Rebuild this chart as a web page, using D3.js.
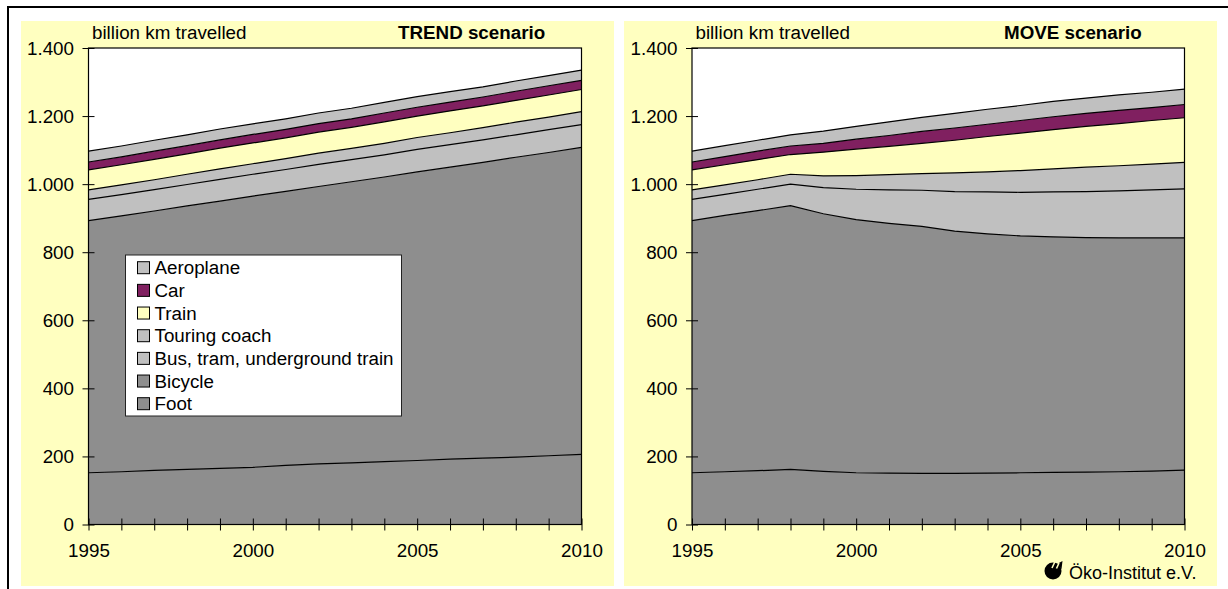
<!DOCTYPE html>
<html>
<head>
<meta charset="utf-8">
<script src="https://cdn.jsdelivr.net/npm/d3@7"></script>
<style>
html,body{margin:0;padding:0;background:#fff}
svg{display:block}
text{font-family:"Liberation Sans",Arial,sans-serif;fill:#000}
</style>
</head>
<body>
<svg id="chart" width="1228" height="589"></svg>
<script>
const years = d3.range(1995, 2011);
const modes = ["Foot", "Bicycle", "Bus, tram, underground train", "Touring coach", "Train", "Car", "Aeroplane"];
const modeColors = ["#8e8e8e", "#8e8e8e", "#c0c0c0", "#c0c0c0", "#ffffc0", "#802060", "#c0c0c0"];
const yTicks = [0, 200, 400, 600, 800, 1000, 1200, 1400];
const xLabels = [1995, 2000, 2005, 2010];

// Passenger traffic per mode, billion km
const trendFoot = [152,155,159,162,165,168,174,178,181,185,188,192,195,198,202,206];
const trendBicycle = [741,752,762,774,785,797,805,815,826,836,848,858,869,881,891,902];
const trendBus = [62,62,63,63,64,64,64,65,65,65,66,66,66,66,67,67];
const trendCoach = [28,29,29,30,31,31,32,33,33,34,35,35,36,37,37,38];
const trendTrain = [59,59,60,60,61,61,61,62,62,63,63,64,64,64,65,65];
const trendCar = [23,23,24,24,24,25,25,25,25,26,26,26,26,27,27,27];
const trendPlane = [32,32,32,32,32,31,31,31,31,31,31,31,30,30,30,30];

const moveFoot = [152,155,158,162,156,152,151,150,150,151,152,153,154,155,157,160];
const moveBicycle = [741,753,764,775,757,744,734,726,712,703,696,692,689,687,685,682];
const moveBus = [62,62,63,63,77,89,98,106,116,123,128,132,135,138,141,144];
const moveCoach = [28,28,28,29,34,40,45,49,55,59,64,68,72,74,76,78];
const moveTrain = [59,59,59,58,70,78,83,89,96,104,110,115,120,124,128,131];
const moveCar = [23,24,25,25,26,29,32,35,36,36,37,38,38,39,38,39];
const movePlane = [32,32,32,33,36,38,40,41,43,44,44,45,45,45,45,45];

const svg = d3.select("#chart");
const thousands = d => d >= 1000 ? d3.format(",")(d).replace(",", ".") : String(d);
const textSize = 18.8;

// Outer frame: top and left rules only
svg.append("rect").attr("x", 7).attr("y", 6).attr("width", 1221).attr("height", 2).attr("fill", "#000");
svg.append("rect").attr("x", 7).attr("y", 6).attr("width", 2).attr("height", 583).attr("fill", "#000");

function drawPanel(cfg) {
  const g = svg.append("g");
  g.append("rect").attr("x", cfg.bgX).attr("y", 21).attr("width", cfg.bgW).attr("height", 565).attr("fill", "#ffffc0");

  const x = d3.scaleLinear().domain([1995, 2010]).range([cfg.left, cfg.right]);
  const y = d3.scaleLinear().domain([0, 1400]).range([524.5, 48]);

  g.append("rect").attr("x", cfg.left).attr("y", y(1400))
    .attr("width", cfg.right - cfg.left).attr("height", y(0) - y(1400)).attr("fill", "#fff");

  const rows = years.map((yr, i) => {
    const row = { year: yr };
    modes.forEach((m, k) => { row[m] = cfg.series[k][i]; });
    return row;
  });
  const layers = d3.stack().keys(modes)(rows);

  const area = d3.area().x(d => x(d.data.year)).y0(d => y(d[0])).y1(d => y(d[1]));
  const top = d3.line().x(d => x(d.data.year)).y(d => y(d[1]));

  g.selectAll("path.band").data(layers).join("path").attr("class", "band")
    .attr("d", area).attr("fill", (d, i) => modeColors[i]);
  g.selectAll("path.edge").data(layers).join("path").attr("class", "edge")
    .attr("d", top).attr("fill", "none").attr("stroke", "#000").attr("stroke-width", 1.2);

  // Plot frame
  g.append("rect").attr("x", cfg.left).attr("y", y(1400))
    .attr("width", cfg.right - cfg.left).attr("height", y(0) - y(1400))
    .attr("fill", "none").attr("stroke", "#000").attr("stroke-width", 1.2);

  // Axes with ticks straddling the axis line
  const yAxis = g.append("g").attr("transform", `translate(${cfg.left},0)`)
    .call(d3.axisLeft(y).tickValues(yTicks).tickFormat(thousands).tickSize(6).tickPadding(8.5));
  yAxis.select(".domain").remove();
  yAxis.selectAll("line").attr("x1", -6).attr("x2", 6).attr("stroke", "#000");
  yAxis.selectAll("text").attr("font-size", textSize).attr("font-family", null);

  const xAxis = g.append("g").attr("transform", `translate(0,${y(0)})`)
    .call(d3.axisBottom(x).tickValues(years).tickFormat(d => xLabels.includes(d) ? d : "").tickSize(6).tickPadding(13));
  xAxis.select(".domain").remove();
  xAxis.selectAll("line").attr("y1", -6).attr("y2", 6).attr("stroke", "#000");
  xAxis.selectAll("text").attr("font-size", textSize).attr("font-family", null);

  g.append("text").attr("x", cfg.left + 3.5).attr("y", 38.5).attr("font-size", textSize).text("billion km travelled");
  g.append("text").attr("x", cfg.titleX).attr("y", 38.5).attr("font-size", textSize)
    .attr("font-weight", "bold").text(cfg.title);
}

drawPanel({
  bgX: 21, bgW: 593, left: 88.5, right: 581.5, titleX: 398, title: "TREND scenario",
  series: [trendFoot, trendBicycle, trendBus, trendCoach, trendTrain, trendCar, trendPlane]
});
drawPanel({
  bgX: 624, bgW: 593, left: 692, right: 1184.5, titleX: 1004, title: "MOVE scenario",
  series: [moveFoot, moveBicycle, moveBus, moveCoach, moveTrain, moveCar, movePlane]
});

// Legend, listed top of the stack first
const legend = svg.append("g");
legend.append("rect").attr("x", 125.5).attr("y", 255).attr("width", 276).attr("height", 161)
  .attr("fill", "#fff").attr("stroke", "#222").attr("stroke-width", 1);
const legendY = d3.scalePoint().domain(modes.slice().reverse()).range([267.7, 403.7]);
modes.forEach((m, k) => {
  const cy = legendY(m);
  legend.append("rect").attr("x", 137.5).attr("y", cy - 6).attr("width", 12).attr("height", 12)
    .attr("fill", modeColors[k]).attr("stroke", "#000").attr("stroke-width", 1);
  legend.append("text").attr("x", 154.5).attr("y", cy + 6.5).attr("font-size", textSize).text(m);
});

// Institute mark: a disc with a slanted spike and two cut slashes, then the name
const mark = svg.append("g").attr("transform", "translate(1053,571)");
mark.append("circle").attr("r", 8.5).attr("fill", "#000");
mark.append("path").attr("fill", "#000").attr("d", "M4,-7 L9.5,-10 L8.5,-2 Z");
mark.append("path").attr("fill", "none").attr("stroke", "#ffffc0").attr("stroke-width", 1.6)
  .attr("d", "M-1,-3 L2,-9.5 M3.5,-2.5 L6,-8");
svg.append("text").attr("x", 1069).attr("y", 579).attr("font-size", 18).attr("fill", "#222").text("Öko-Institut e.V.");
</script>
</body>
</html>
